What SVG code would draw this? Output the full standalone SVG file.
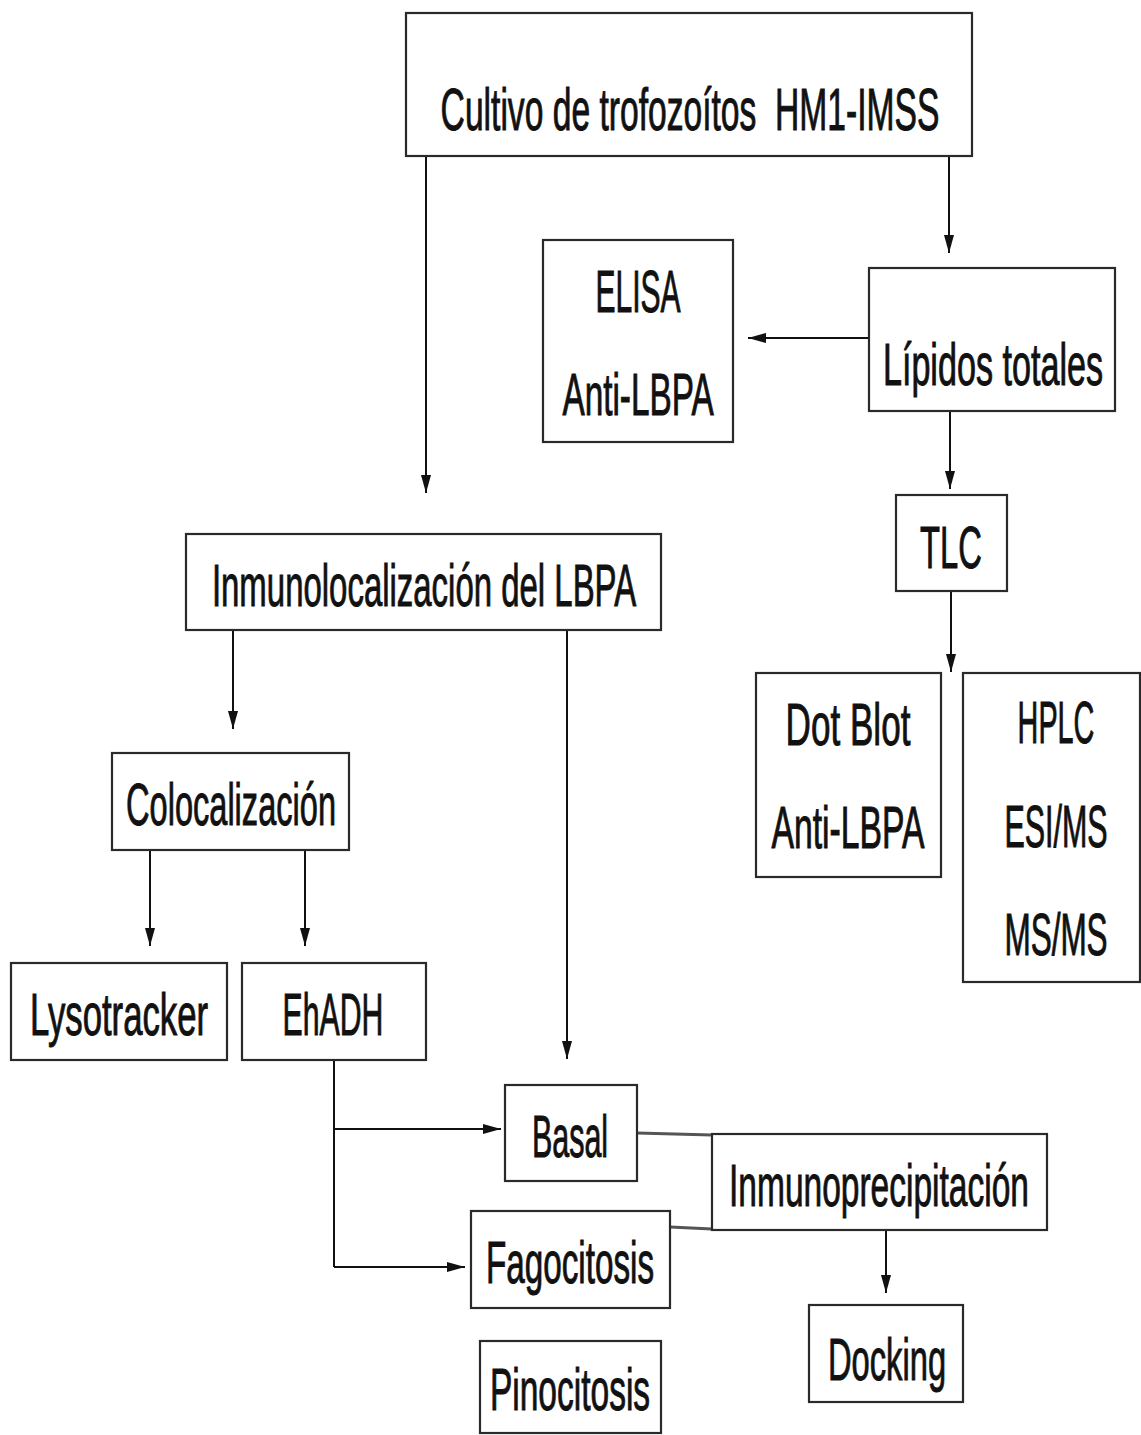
<svg xmlns="http://www.w3.org/2000/svg" width="1141" height="1435" viewBox="0 0 1141 1435">
<style>
.box{fill:#fff;stroke:#2a2a2a;stroke-width:2.2}
.t{font-family:"Liberation Sans",Arial,sans-serif;font-size:60px;fill:#111;stroke:#111;stroke-width:1;text-anchor:middle}
.c{fill:none;stroke:#111;stroke-width:2}
.g{fill:none;stroke:#555;stroke-width:3}
</style>
<defs>
<marker id="ah" viewBox="0 0 18 10" refX="18" refY="5" markerWidth="18" markerHeight="10" markerUnits="userSpaceOnUse" orient="auto">
<path d="M0,0 L18,5 L0,10 Z" fill="#111"/>
</marker>
</defs>
<rect width="1141" height="1435" fill="#fff"/>
<g id="connectors">
<line class="c" x1="426" y1="156" x2="426" y2="493" marker-end="url(#ah)"/>
<line class="c" x1="949" y1="156" x2="949" y2="253" marker-end="url(#ah)"/>
<line class="c" x1="869" y1="338" x2="748" y2="338" marker-end="url(#ah)"/>
<line class="c" x1="950" y1="411" x2="950" y2="489" marker-end="url(#ah)"/>
<line class="c" x1="951" y1="591" x2="951" y2="672" marker-end="url(#ah)"/>
<line class="c" x1="233" y1="630" x2="233" y2="729" marker-end="url(#ah)"/>
<line class="c" x1="567" y1="630" x2="567" y2="1059" marker-end="url(#ah)"/>
<line class="c" x1="150" y1="850" x2="150" y2="946" marker-end="url(#ah)"/>
<line class="c" x1="305" y1="850" x2="305" y2="946" marker-end="url(#ah)"/>
<path class="c" d="M334,1060 V1267"/>
<line class="c" x1="334" y1="1129" x2="501" y2="1129" marker-end="url(#ah)"/>
<line class="c" x1="334" y1="1267" x2="465" y2="1267" marker-end="url(#ah)"/>
<line class="g" x1="637" y1="1133" x2="712" y2="1135"/>
<line class="g" x1="670" y1="1227" x2="712" y2="1229"/>
<line class="c" x1="886" y1="1230" x2="886" y2="1293" marker-end="url(#ah)"/>
</g>
<g id="n-cultivo">
<rect class="box" x="406" y="13" width="566" height="143"/>
<text class="t" xml:space="preserve" transform="translate(690,130) scale(0.58,1)" font-size="64" textLength="860" lengthAdjust="spacingAndGlyphs">Cultivo de trofozoítos  HM1-IMSS</text>
</g>
<g id="n-elisa">
<rect class="box" x="543" y="240" width="190" height="202"/>
<text class="t" transform="translate(638,312) scale(0.6,1)" textLength="142" lengthAdjust="spacingAndGlyphs">ELISA</text>
<text class="t" transform="translate(638,415) scale(0.6,1)" textLength="252" lengthAdjust="spacingAndGlyphs">Anti-LBPA</text>
</g>
<g id="n-lipidos">
<rect class="box" x="869" y="268" width="246" height="143"/>
<text class="t" transform="translate(993,385) scale(0.6,1)" textLength="367" lengthAdjust="spacingAndGlyphs">Lípidos totales</text>
</g>
<g id="n-tlc">
<rect class="box" x="896" y="495" width="111" height="96"/>
<text class="t" transform="translate(951,568) scale(0.6,1)" textLength="103" lengthAdjust="spacingAndGlyphs">TLC</text>
</g>
<g id="n-dotblot">
<rect class="box" x="756" y="673" width="185" height="204"/>
<text class="t" transform="translate(848,745) scale(0.6,1)" textLength="208" lengthAdjust="spacingAndGlyphs">Dot Blot</text>
<text class="t" transform="translate(848,848) scale(0.6,1)" textLength="255" lengthAdjust="spacingAndGlyphs">Anti-LBPA</text>
</g>
<g id="n-hplc">
<rect class="box" x="963" y="673" width="177" height="309"/>
<text class="t" transform="translate(1056,743) scale(0.6,1)" textLength="128" lengthAdjust="spacingAndGlyphs">HPLC</text>
<text class="t" transform="translate(1056,847) scale(0.6,1)" textLength="172" lengthAdjust="spacingAndGlyphs">ESI/MS</text>
<text class="t" transform="translate(1056,955) scale(0.6,1)" textLength="172" lengthAdjust="spacingAndGlyphs">MS/MS</text>
</g>
<g id="n-inmunoloc">
<rect class="box" x="186" y="534" width="475" height="96"/>
<text class="t" transform="translate(424,606) scale(0.6,1)" textLength="707" lengthAdjust="spacingAndGlyphs">Inmunolocalización del LBPA</text>
</g>
<g id="n-coloc">
<rect class="box" x="112" y="753" width="237" height="97"/>
<text class="t" transform="translate(231,825) scale(0.6,1)" textLength="350" lengthAdjust="spacingAndGlyphs">Colocalización</text>
</g>
<g id="n-lyso">
<rect class="box" x="11" y="963" width="216" height="97"/>
<text class="t" transform="translate(119,1035) scale(0.6,1)" textLength="297" lengthAdjust="spacingAndGlyphs">Lysotracker</text>
</g>
<g id="n-ehadh">
<rect class="box" x="242" y="963" width="184" height="97"/>
<text class="t" transform="translate(333,1035) scale(0.6,1)" textLength="168" lengthAdjust="spacingAndGlyphs">EhADH</text>
</g>
<g id="n-basal">
<rect class="box" x="505" y="1085" width="132" height="96"/>
<text class="t" transform="translate(570,1157) scale(0.6,1)" textLength="127" lengthAdjust="spacingAndGlyphs">Basal</text>
</g>
<g id="n-fago">
<rect class="box" x="471" y="1211" width="199" height="97"/>
<text class="t" transform="translate(570,1283) scale(0.6,1)" textLength="280" lengthAdjust="spacingAndGlyphs">Fagocitosis</text>
</g>
<g id="n-pino">
<rect class="box" x="480" y="1341" width="181" height="92"/>
<text class="t" transform="translate(570,1410) scale(0.6,1)" textLength="267" lengthAdjust="spacingAndGlyphs">Pinocitosis</text>
</g>
<g id="n-inmunoprec">
<rect class="box" x="712" y="1134" width="335" height="96"/>
<text class="t" transform="translate(879,1206) scale(0.6,1)" textLength="500" lengthAdjust="spacingAndGlyphs">Inmunoprecipitación</text>
</g>
<g id="n-docking">
<rect class="box" x="809" y="1305" width="154" height="97"/>
<text class="t" transform="translate(887,1380) scale(0.6,1)" textLength="197" lengthAdjust="spacingAndGlyphs">Docking</text>
</g>
</svg>
